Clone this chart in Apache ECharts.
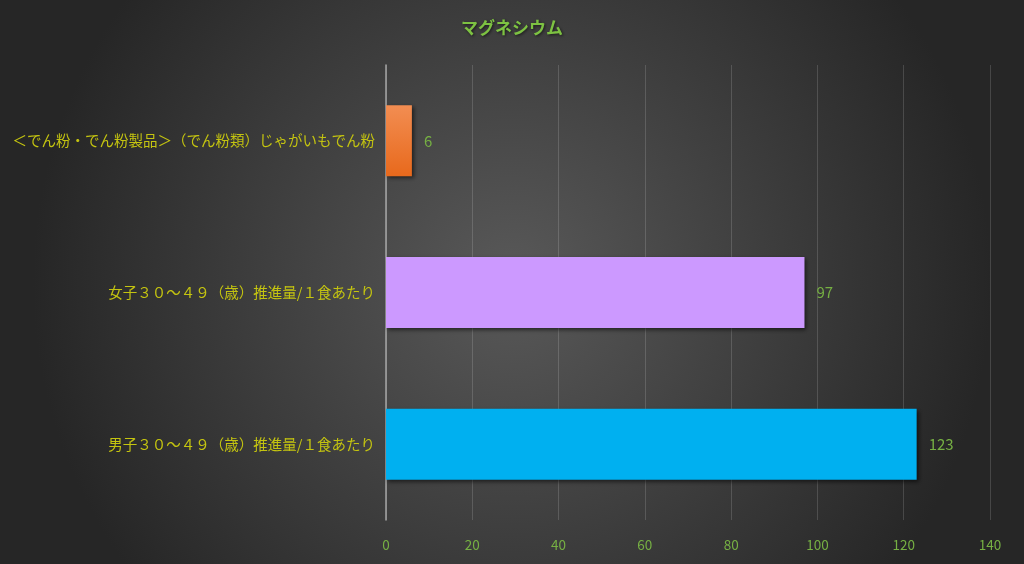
<!DOCTYPE html>
<html><head><meta charset="utf-8">
<script src="https://cdn.jsdelivr.net/npm/echarts@6/dist/echarts.min.js"></script>
<style>html,body{margin:0;padding:0;}#c{width:1024px;height:564px;}</style>
</head><body><div id="c"></div>
<script>
const title = 'マグネシウム';
const categories = [
  '＜でん粉・でん粉製品＞（でん粉類）じゃがいもでん粉',
  '女子３０～４９（歳）推進量/１食あたり',
  '男子３０～４９（歳）推進量/１食あたり'
];
const values = [6, 97, 123];
const xTicks = {min: 0, max: 140, interval: 20};

const barColors = [
  {type:'linear',x:0,y:0,x2:0,y2:1,colorStops:[{offset:0,color:'#F28D52'},{offset:1,color:'#E8691C'}]},
  '#CC99FF',
  '#00B0F0'
];

const chart = echarts.init(document.getElementById('c'));
chart.setOption({
  backgroundColor: {type:'radial',x:0.5,y:0.5,r:0.85,colorStops:[{offset:0,color:'#595959'},{offset:1,color:'#262626'}]},
  textStyle:{fontFamily:'"Noto Sans CJK JP", "Noto Sans", sans-serif'},
  title:{text:title,left:'center',top:14,textStyle:{color:'#7DC242',fontSize:17,fontWeight:'bold',textShadowColor:'rgba(0,0,0,0.6)',textShadowBlur:3,textShadowOffsetX:1,textShadowOffsetY:1}},
  grid:{left:386,right:34,top:65,bottom:44,containLabel:false},
  xAxis:{type:'value',min:xTicks.min,max:xTicks.max,interval:xTicks.interval,
    axisLine:{show:false},axisTick:{show:false},
    axisLabel:{color:'#76B043',fontSize:13.5,margin:18},
    splitLine:{lineStyle:{color:'rgba(255,255,255,0.15)',width:1}}},
  yAxis:{type:'category',data:categories,inverse:true,
    axisLine:{show:true,lineStyle:{color:'#A6A6A6',width:1.5}},
    axisTick:{show:false},
    axisLabel:{color:'#C4C410',fontSize:14.5,margin:11}},
  series:[{type:'bar',barWidth:71,
    data:values.map((v,i)=>({value:v,itemStyle:{color:barColors[i]}})),
    itemStyle:{shadowColor:'rgba(0,0,0,0.55)',shadowBlur:4,shadowOffsetX:2,shadowOffsetY:2},
    label:{show:true,position:'right',distance:12,color:'#76B043',fontSize:15}}]
});
</script></body></html>
